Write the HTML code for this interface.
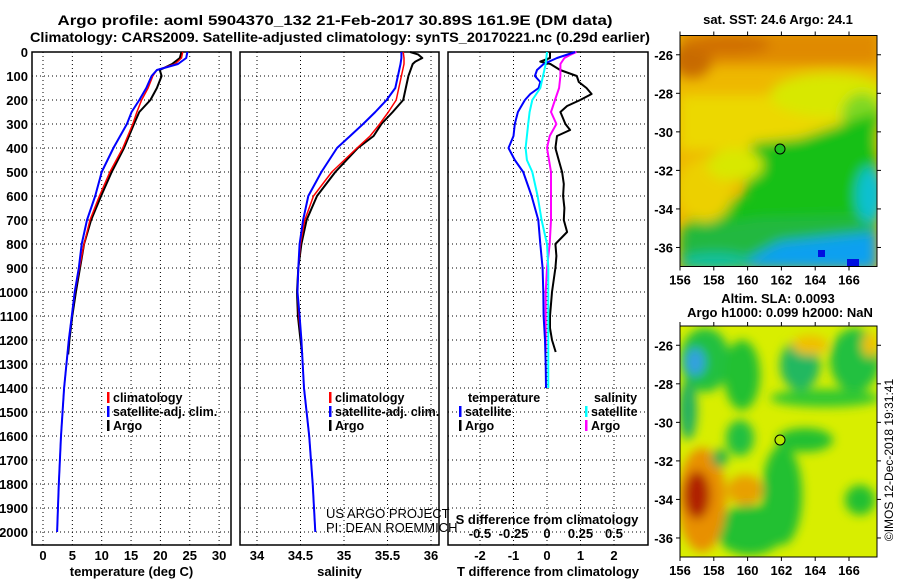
<!DOCTYPE html>
<html><head><meta charset="utf-8">
<style>
html,body{margin:0;padding:0;background:#fff;}
svg{display:block;font-family:"Liberation Sans",Arial,sans-serif;}
.b{font-weight:bold;font-size:13px;fill:#000;}
</style></head>
<body>
<svg id="fig" width="900" height="580" viewBox="0 0 900 580" xmlns="http://www.w3.org/2000/svg">
<defs>
<filter id="bl" x="-20%" y="-20%" width="140%" height="140%"><feGaussianBlur stdDeviation="6"/></filter>
<filter id="bl2" x="-20%" y="-20%" width="140%" height="140%"><feGaussianBlur stdDeviation="5"/></filter>
<clipPath id="c1"><rect x="680" y="35.5" width="197" height="231"/></clipPath>
<clipPath id="c2"><rect x="680" y="326" width="197" height="231"/></clipPath>
</defs>
<text class="b" x="335" y="25" text-anchor="middle" textLength="555" lengthAdjust="spacingAndGlyphs" style="font-size:14px">Argo profile: aoml 5904370_132 21-Feb-2017 30.89S 161.9E (DM data)</text>
<text class="b" x="340" y="42" text-anchor="middle" textLength="620" lengthAdjust="spacingAndGlyphs" style="font-size:14px">Climatology: CARS2009. Satellite-adjusted climatology: synTS_20170221.nc (0.29d earlier)</text>
<g id="panels"></g>

<!-- SST map -->
<g>
<g clip-path="url(#c1)">
<rect x="680" y="35.5" width="197" height="231" fill="#eeb800"/>
<g filter="url(#bl)">
<rect x="680" y="30" width="200" height="35" fill="#e08a00"/>
<ellipse cx="692" cy="60" rx="20" ry="18" fill="#c86a00"/>
<ellipse cx="730" cy="45" rx="40" ry="10" fill="#d07000"/>
<rect x="680" y="95" width="200" height="55" fill="#ecd800"/>
<ellipse cx="830" cy="95" rx="60" ry="22" fill="#d8e800"/>
<ellipse cx="862" cy="115" rx="20" ry="22" fill="#80d820"/>
<polygon points="752,143 800,138 877,112 877,240 680,240 690,218 745,195" fill="#18c018"/>
<ellipse cx="705" cy="190" rx="28" ry="32" fill="#ecd000"/>
<ellipse cx="735" cy="165" rx="28" ry="16" fill="#d8e800"/>
<polygon points="680,230 760,218 877,215 877,270 680,270" fill="#20b840"/>
<polygon points="735,266 780,242 877,232 877,270" fill="#10a0f0"/>
<ellipse cx="870" cy="195" rx="14" ry="28" fill="#10c0d0"/>
<ellipse cx="715" cy="262" rx="35" ry="9" fill="#10c0a0"/>
</g>
<rect x="818" y="250" width="7" height="7" fill="#0010e0"/>
<rect x="847" y="259" width="12" height="8" fill="#0010e0"/>
</g>
<rect x="680" y="35.5" width="197" height="231" fill="none" stroke="#000"/>
<circle cx="780" cy="149" r="5" fill="#20c020" stroke="#000"/>
<text class="b" x="778" y="24" text-anchor="middle">sat. SST: 24.6 Argo: 24.1</text>
</g>
<!-- SLA map -->
<g>
<g clip-path="url(#c2)">
<rect x="680" y="326" width="197" height="231" fill="#d8ee00"/>
<g filter="url(#bl2)">
<ellipse cx="705" cy="360" rx="25" ry="32" fill="#20c040"/>
<ellipse cx="695" cy="362" rx="10" ry="14" fill="#30a0e0"/>
<ellipse cx="688" cy="410" rx="9" ry="30" fill="#20b060"/>
<ellipse cx="742" cy="375" rx="18" ry="35" fill="#20c030"/>
<ellipse cx="800" cy="365" rx="20" ry="25" fill="#20b860"/>
<ellipse cx="855" cy="360" rx="25" ry="32" fill="#20c040"/>
<ellipse cx="825" cy="398" rx="55" ry="9" fill="#30c830"/>
<ellipse cx="740" cy="438" rx="14" ry="18" fill="#20c040"/>
<ellipse cx="805" cy="440" rx="28" ry="12" fill="#20c030"/>
<ellipse cx="782" cy="495" rx="20" ry="50" fill="#20c030"/>
<ellipse cx="750" cy="530" rx="35" ry="25" fill="#20c030"/>
<ellipse cx="860" cy="500" rx="15" ry="15" fill="#20c030"/>
<ellipse cx="702" cy="500" rx="24" ry="52" fill="#e89000"/>
<ellipse cx="697" cy="495" rx="13" ry="24" fill="#b02000"/>
<ellipse cx="745" cy="490" rx="18" ry="15" fill="#e8a000"/>
<ellipse cx="720" cy="458" rx="8" ry="9" fill="#20b050"/>
<ellipse cx="810" cy="345" rx="18" ry="10" fill="#f0c000"/>
<ellipse cx="870" cy="345" rx="8" ry="12" fill="#f0c000"/>
</g>
</g>
<rect x="680" y="326" width="197" height="231" fill="none" stroke="#000"/>
<circle cx="780" cy="440" r="5" fill="#b8e800" stroke="#000"/>
<text class="b" x="778" y="303" text-anchor="middle">Altim. SLA: 0.0093</text>
<text class="b" x="780" y="317" text-anchor="middle">Argo h1000: 0.099 h2000: NaN</text>
</g>
<g id="mapaxes"></g>
<text x="893" y="460" text-anchor="middle" transform="rotate(-90 893 460)" style="font-size:12px">©IMOS 12-Dec-2018 19:31:41</text>
</svg>
<script>
// ---- data ----
const depthTicks = [0,100,200,300,400,500,600,700,800,900,1000,1100,1200,1300,1400,1500,1600,1700,1800,1900,2000];
const tempTicks = [0,5,10,15,20,25,30];
const salTicks = [34,34.5,35,35.5,36];
const salTickLabels = ["34","34.5","35","35.5","36"];
const tDiffTicks = [-2,-1,0,1,2];
const sDiffTicks = [-0.5,-0.25,0,0.25,0.5];
const sDiffTickLabels = ["-0.5","-0.25","0","0.25","0.5"];

const tempDepth = [0,25,50,75,100,150,200,250,300,400,500,600,700,800,900,1000,1100,1200,1400,1600,1800,2000];
const tempClim = [23.8,23.6,22.5,19.4,18.7,17.9,16.8,16.0,15.3,13.6,11.4,9.6,8.0,7.0,6.2,5.45,4.9,4.4,3.6,3.07,2.7,2.4];
const tempSat = [24.6,24.4,23.0,19.4,18.5,17.6,16.4,15.1,14.3,12.0,10.0,8.9,7.5,6.6,6.1,5.4,4.9,4.4,3.6,3.07,2.7,2.4];
const tempArgoDepth = [0,25,50,75,100,150,200,250,300,400,500,600,700,800,900,1000,1100,1200,1260];
const tempArgo = [23.6,23.3,22.0,19.9,20.2,19.4,18.3,16.4,15.5,13.8,11.7,9.9,8.2,7.0,6.3,5.6,5.0,4.5,4.3];

const salDepth = [0,25,50,100,150,200,250,300,350,400,500,600,700,800,900,1000,1100,1200,1400,1600,1800,2000];
const salClim = [35.68,35.69,35.69,35.66,35.63,35.60,35.51,35.41,35.30,35.15,34.86,34.65,34.55,34.50,34.475,34.465,34.48,34.51,34.54,34.60,34.64,34.67];
const salSat = [35.66,35.66,35.65,35.62,35.59,35.49,35.36,35.22,35.07,34.92,34.74,34.59,34.53,34.49,34.475,34.465,34.49,34.51,34.54,34.60,34.64,34.67];
const salArgoDepth = [0,10,25,40,50,100,150,200,250,300,350,400,500,600,700,800,900,1000,1100,1200,1260];
const salArgo = [35.76,35.85,35.90,35.82,35.79,35.74,35.71,35.68,35.56,35.43,35.34,35.16,34.90,34.69,34.57,34.51,34.475,34.46,34.47,34.50,34.52];

const tSatDiffDepth = [0,25,50,75,100,125,150,175,200,250,300,350,400,450,500,600,700,800,900,1000,1100,1200,1300,1400];
const tSatDiff = [0.84,0.3,-0.1,-0.3,-0.36,-0.2,-0.25,-0.5,-0.66,-0.87,-0.96,-1.0,-1.15,-0.96,-0.71,-0.46,-0.26,-0.2,-0.13,-0.11,-0.1,-0.06,-0.04,-0.03];
const tArgoDiffDepth = [0,25,40,50,75,100,125,150,175,200,225,250,300,325,350,400,450,500,550,600,650,700,750,800,850,900,1000,1100,1150,1200,1250];
const tArgoDiff = [0.09,0.09,-0.2,0.1,0.39,0.89,0.95,1.18,1.33,0.99,0.6,0.4,0.55,0.69,0.3,0.25,0.35,0.45,0.5,0.48,0.52,0.5,0.6,0.25,0.28,0.25,0.15,0.09,0.09,0.15,0.26];
const sSatDiffDepth = [0,50,100,150,200,250,300,400,450,500,600,700,800,900,1000,1200,1400];
const sSatDiff = [0,-0.01,-0.03,-0.05,-0.11,-0.13,-0.14,-0.16,-0.15,-0.11,-0.07,-0.04,0,0.01,0.01,0.01,0.01];
const sArgoDiffDepth = [0,10,25,50,100,150,200,250,300,350,400,500,600,700,800,900,1000,1100,1200,1250];
const sArgoDiff = [0.22,0.18,0.13,0.1,0.1,0.09,0.06,0.03,0.07,0.02,0,0.03,0.03,0.03,0.02,0,-0.01,-0.01,-0.01,-0.01];

const latTicks = [-26,-28,-30,-32,-34,-36];
const lonTicks = [156,158,160,162,164,166];

// ---- scales ----
const NS = "http://www.w3.org/2000/svg";
const TOP = 52, BOT = 545;
const yD = d => TOP + d * 0.24;
const xT = t => 43 + t * 5.87;
const xS = s => 257 + (s - 34) * 87;
const xTD = t => 547 + t * 33.5;
const xSD = s => 547 + s * 134;
const mapX = lon => 680 + (lon - 156) * 16.9;
const mapY1 = lat => 35.5 + (-25 - lat) * 19.27;
const mapY2 = lat => 326 + (-25 - lat) * 19.27;

function mk(tag, attrs, parent, text) {
  const e = document.createElementNS(NS, tag);
  for (const k in attrs) e.setAttribute(k, attrs[k]);
  if (text !== undefined) e.textContent = text;
  parent.appendChild(e);
  return e;
}
const root = document.getElementById('panels');

function panel(name, x0, x1, xticks, xfn, xlabels, title) {
  const g = mk('g', {}, root);
  
  
  depthTicks.forEach(d => {
    const l = mk('line', {x1: x0, x2: x1, y1: yD(d), y2: yD(d), stroke: '#000', 'stroke-width': 1, 'stroke-dasharray': '1,3'}, g);
    
    
  });
  xticks.forEach((v, i) => {
    const l = mk('line', {x1: xfn(v), x2: xfn(v), y1: TOP, y2: BOT, stroke: '#000', 'stroke-width': 1, 'stroke-dasharray': '1,3'}, g);
    
    
    if (xlabels) {
      const t = mk('text', {x: xfn(v), y: 560, 'text-anchor': 'middle', class: 'b'}, g, xlabels[i]);
      
      
    }
  });
  const r = mk('rect', {x: x0, y: TOP, width: x1 - x0, height: BOT - TOP, fill: 'none', stroke: '#000', 'stroke-width': 1.5}, g);
  
  
  const tt = mk('text', {x: (x0 + x1) / 2, y: 576, 'text-anchor': 'middle', class: 'b'}, g, title);
  
  
  return g;
}
function line(g, name, depths, vals, xfn, color, w) {
  const pts = depths.map((d, i) => xfn(vals[i]).toFixed(1) + ',' + yD(d).toFixed(1)).join(' ');
  const p = mk('polyline', {points: pts, fill: 'none', stroke: color, 'stroke-width': w, 'stroke-linejoin': 'round'}, g);
  
  
}
function legend(g, x, y, color, label) {
  const r = mk('rect', {x: x, y: y - 10, width: 2.5, height: 11, fill: color}, g);
  
  
  const t = mk('text', {x: x + 6, y: y, class: 'b', style: 'font-size:12.5px'}, g, label);
  
  
}

depthTicks.forEach(d => {
  const t = mk('text', {x: 28, y: yD(d) + 5, 'text-anchor': 'end', class: 'b'}, root, String(d));
  
  
});

const gT = panel('temperature-panel', 32, 231, tempTicks, xT, tempTicks.map(String), 'temperature (deg C)');
line(gT, 'temp-argo-line', tempArgoDepth, tempArgo, xT, '#000', 2);
line(gT, 'temp-climatology-line', tempDepth, tempClim, xT, '#f00', 1.5);
line(gT, 'temp-satellite-line', tempDepth, tempSat, xT, '#00f', 2);
legend(gT, 107, 402, '#f00', 'climatology');
legend(gT, 107, 416, '#00f', 'satellite-adj. clim.');
legend(gT, 107, 430, '#000', 'Argo');

const gS = panel('salinity-panel', 240, 439, salTicks, xS, salTickLabels, 'salinity');
line(gS, 'sal-argo-line', salArgoDepth, salArgo, xS, '#000', 2);
line(gS, 'sal-climatology-line', salDepth, salClim, xS, '#f00', 1.5);
line(gS, 'sal-satellite-line', salDepth, salSat, xS, '#00f', 2);
legend(gS, 329, 402, '#f00', 'climatology');
legend(gS, 329, 416, '#00f', 'satellite-adj. clim.');
legend(gS, 329, 430, '#000', 'Argo');
let t1 = mk('text', {x: 326, y: 518, style: 'font-size:13px'}, gS, 'US ARGO PROJECT');


let t2 = mk('text', {x: 326, y: 532, style: 'font-size:13px'}, gS, 'PI: DEAN ROEMMICH');



const gD = panel('difference-panel', 448, 648, tDiffTicks, xTD, tDiffTicks.map(String), 'T difference from climatology');
line(gD, 'tdiff-argo-line', tArgoDiffDepth, tArgoDiff, xTD, '#000', 2);
line(gD, 'sdiff-argo-line', sArgoDiffDepth, sArgoDiff, xSD, '#f0f', 2);
line(gD, 'tdiff-satellite-line', tSatDiffDepth, tSatDiff, xTD, '#00f', 2);
line(gD, 'sdiff-satellite-line', sSatDiffDepth, sSatDiff, xSD, '#0ff', 2);
let th = mk('text', {x: 468, y: 402, class: 'b', style: 'font-size:12.5px'}, gD, 'temperature');


let sh = mk('text', {x: 594, y: 402, class: 'b', style: 'font-size:12.5px'}, gD, 'salinity');


legend(gD, 459, 416, '#00f', 'satellite');
legend(gD, 459, 430, '#000', 'Argo');
legend(gD, 585, 416, '#0ff', 'satellite');
legend(gD, 585, 430, '#f0f', 'Argo');
let sdt = mk('text', {x: 547, y: 524, 'text-anchor': 'middle', class: 'b'}, gD, 'S difference from climatology');


sDiffTicks.forEach((v, i) => {
  const t = mk('text', {x: xSD(v), y: 538, 'text-anchor': 'middle', class: 'b'}, gD, sDiffTickLabels[i]);
  
  
});

const ma = document.getElementById('mapaxes');
[[mapY1, 266.5, 35.5], [mapY2, 557, 326]].forEach(([fy, bot, top]) => {
  latTicks.forEach(lat => {
    const y = fy(lat);
    mk('line', {x1: 676, x2: 680, y1: y, y2: y, stroke: '#000'}, ma);
    mk('line', {x1: 877, x2: 881, y1: y, y2: y, stroke: '#000'}, ma);
    const t = mk('text', {x: 673, y: y + 5, 'text-anchor': 'end', class: 'b'}, ma, String(lat));
    
    
  });
  lonTicks.forEach(lon => {
    const x = mapX(lon);
    mk('line', {x1: x, x2: x, y1: bot, y2: bot + 4, stroke: '#000'}, ma);
    mk('line', {x1: x, x2: x, y1: top - 4, y2: top, stroke: '#000'}, ma);
    const t = mk('text', {x: x, y: bot + 18, 'text-anchor': 'middle', class: 'b'}, ma, String(lon));
    
    
  });
});
</script>
</body></html>
